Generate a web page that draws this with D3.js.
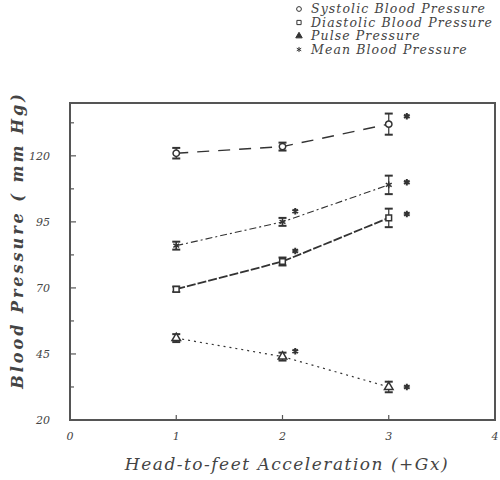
<!DOCTYPE html>
<html>
<head>
<meta charset="utf-8">
<script src="https://cdn.jsdelivr.net/npm/d3@7.9.0/dist/d3.min.js"></script>
<style>
  body { margin: 0; background: #fff; }
  text { font-family: "DejaVu Serif", "Liberation Serif", serif; font-style: italic; fill: #444; }
</style>
</head>
<body>
<svg id="chart" width="500" height="480"></svg>
<script>
// data
const accel = [1, 2, 3];
const seriesNames = ["Systolic Blood Pressure", "Diastolic Blood Pressure", "Pulse Pressure", "Mean Blood Pressure"];
const systolic = [121, 123.5, 132];
const systolicErr = [2, 1.5, 4];
const diastolic = [69.5, 80, 96.5];
const diastolicErr = [1, 1.5, 3.5];
const pulse = [51, 44, 32.5];
const pulseErr = [1.5, 1.5, 2];
const mean = [86, 95, 109];
const meanErr = [1.5, 1.5, 3.5];
// significance marks (x position, value)
const sigX = [2.12, 2.12, 2.12, 3.17, 3.17, 3.17, 3.17];
const sigY = [99, 84, 46, 135, 110, 98, 32.5];
const xTicks = [0, 1, 2, 3, 4];
const yTicks = [20, 45, 70, 95, 120];

const svg = d3.select("#chart");
const x = d3.scaleLinear().domain([0, 4]).range([70, 495]);
const y = d3.scaleLinear().domain([20, 140]).range([420, 103]);
const ink = "#333";

// frame
svg.append("rect")
  .attr("x", x(0)).attr("y", y(140))
  .attr("width", x(4) - x(0)).attr("height", y(20) - y(140))
  .attr("fill", "none").attr("stroke", "#555").attr("stroke-width", 2);

// y ticks (major + minor, inside)
d3.range(20, 140.1, 12.5).forEach(v => {
  const major = yTicks.includes(v);
  svg.append("line")
    .attr("x1", x(0)).attr("x2", x(0) + (major ? 6 : 4))
    .attr("y1", y(v)).attr("y2", y(v))
    .attr("stroke", "#555").attr("stroke-width", 1.2);
});
yTicks.forEach(v => {
  svg.append("text").attr("x", 50).attr("y", y(v) + 4)
    .attr("text-anchor", "end").attr("font-size", 11).text(v);
});
xTicks.forEach(v => {
  svg.append("line")
    .attr("x1", x(v)).attr("x2", x(v))
    .attr("y1", y(20)).attr("y2", y(20) - 5)
    .attr("stroke", "#555").attr("stroke-width", 1.2);
  svg.append("text").attr("x", x(v)).attr("y", 440)
    .attr("text-anchor", "middle").attr("font-size", 11).text(v);
});

// axis titles
svg.append("text")
  .attr("transform", "translate(23,240) rotate(-90)")
  .attr("text-anchor", "middle").attr("font-size", 16).attr("font-weight", "bold")
  .attr("letter-spacing", 3)
  .text("Blood Pressure ( mm Hg)");
svg.append("text")
  .attr("x", 287).attr("y", 470)
  .attr("text-anchor", "middle").attr("font-size", 17)
  .attr("letter-spacing", 1.5)
  .text("Head-to-feet Acceleration (+Gx)");

const series = [
  { vals: systolic, err: systolicErr, sym: d3.symbolCircle, dash: "12,9", w: 1.4 },
  { vals: diastolic, err: diastolicErr, sym: d3.symbolSquare, dash: "9,2", w: 1.8 },
  { vals: pulse, err: pulseErr, sym: d3.symbolTriangle, dash: "2,4", w: 1.2 },
  { vals: mean, err: meanErr, sym: d3.symbolAsterisk, dash: "7,3,2,3", w: 1.1 }
];

const line = d3.line().x((d, i) => x(accel[i])).y(d => y(d));

series.forEach(s => {
  svg.append("path")
    .attr("d", line(s.vals))
    .attr("fill", "none").attr("stroke", ink)
    .attr("stroke-width", s.w).attr("stroke-dasharray", s.dash);

  s.vals.forEach((v, i) => {
    const cx = x(accel[i]);
    // error bar
    svg.append("line")
      .attr("x1", cx).attr("x2", cx)
      .attr("y1", y(v - s.err[i])).attr("y2", y(v + s.err[i]))
      .attr("stroke", ink).attr("stroke-width", 1.2);
    [v - s.err[i], v + s.err[i]].forEach(e => {
      svg.append("line")
        .attr("x1", cx - 4).attr("x2", cx + 4)
        .attr("y1", y(e)).attr("y2", y(e))
        .attr("stroke", ink).attr("stroke-width", 2);
    });
    svg.append("path")
      .attr("d", d3.symbol().type(s.sym).size(32)())
      .attr("transform", `translate(${cx},${y(v)})`)
      .attr("fill", "#fff").attr("stroke", ink).attr("stroke-width", 1.5);
  });
});

// significance marks
sigX.forEach((sx, i) => {
  svg.append("path")
    .attr("d", d3.symbol().type(d3.symbolAsterisk).size(30)())
    .attr("transform", `translate(${x(sx)},${y(sigY[i])})`)
    .attr("fill", "none").attr("stroke", ink).attr("stroke-width", 2);
});

// legend
const legSyms = [d3.symbolCircle, d3.symbolSquare, d3.symbolTriangle, d3.symbolAsterisk];
seriesNames.forEach((name, i) => {
  const ly = 9 + i * 13.5;
  svg.append("path")
    .attr("d", d3.symbol().type(legSyms[i]).size(18)())
    .attr("transform", `translate(299,${ly})`)
    .attr("fill", i === 2 || i === 3 ? ink : "#fff").attr("stroke", ink).attr("stroke-width", 1);
  svg.append("text").attr("x", 311).attr("y", ly + 4)
    .attr("font-size", 12.5).attr("letter-spacing", 1.1).text(name);
});
</script>
</body>
</html>
